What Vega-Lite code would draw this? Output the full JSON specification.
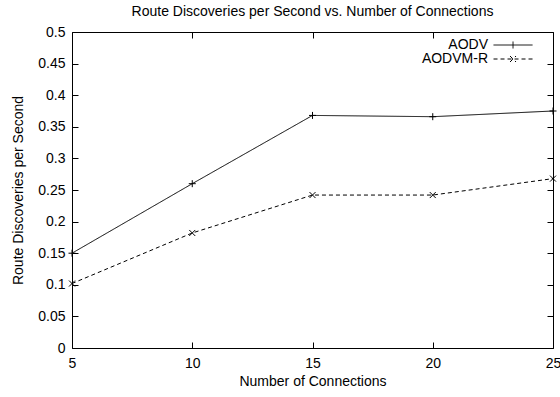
{
  "$schema": "https://vega.github.io/schema/vega-lite/v6.json",
  "width": 481,
  "height": 316,
  "autosize": "none",
  "padding": {"left": 72, "top": 32, "right": 7, "bottom": 49},
  "background": "white",
  "config": {
    "font": "Liberation Sans",
    "view": {"stroke": "black", "strokeWidth": 1},
    "axis": {"labelFont": "Liberation Sans", "titleFont": "Liberation Sans", "labelFontSize": 14, "titleFontSize": 14, "labelColor": "black", "titleColor": "black", "titleFontWeight": "normal", "grid": false, "domain": false, "tickColor": "black", "tickSize": -6, "tickWidth": 1},
    "legend": {"labelFont": "Liberation Sans", "labelFontSize": 14, "labelColor": "black", "padding": 0}
  },
  "title": {"text": "Route Discoveries per Second vs. Number of Connections", "font": "Liberation Sans", "fontSize": 14, "fontWeight": "normal", "color": "black", "anchor": "middle", "offset": 6},
  "data": {"values": [
    {"connections": 5, "rate": 0.150, "series": "AODV"},
    {"connections": 10, "rate": 0.260, "series": "AODV"},
    {"connections": 15, "rate": 0.368, "series": "AODV"},
    {"connections": 20, "rate": 0.366, "series": "AODV"},
    {"connections": 25, "rate": 0.375, "series": "AODV"},
    {"connections": 5, "rate": 0.102, "series": "AODVM-R"},
    {"connections": 10, "rate": 0.182, "series": "AODVM-R"},
    {"connections": 15, "rate": 0.242, "series": "AODVM-R"},
    {"connections": 20, "rate": 0.242, "series": "AODVM-R"},
    {"connections": 25, "rate": 0.268, "series": "AODVM-R"}
  ]},
  "resolve": {"axis": {"x": "independent", "y": "independent"}},
  "layer": [
    {
      "mark": {"type": "line", "color": "black", "strokeWidth": 1},
      "encoding": {
        "x": {"field": "connections", "type": "quantitative", "scale": {"domain": [5, 25], "nice": false, "zero": false}, "axis": {"title": "Number of Connections", "values": [5, 10, 15, 20, 25], "labelPadding": 14, "titlePadding": 4, "labelFlush": false}},
        "y": {"field": "rate", "type": "quantitative", "scale": {"domain": [0, 0.5], "nice": false}, "axis": {"title": "Route Discoveries per Second", "values": [0, 0.05, 0.1, 0.15, 0.2, 0.25, 0.3, 0.35, 0.4, 0.45, 0.5], "format": "~g", "labelPadding": 13, "titlePadding": 12, "labelFlush": false}},
        "strokeDash": {"field": "series", "type": "nominal", "scale": {"domain": ["AODV", "AODVM-R"], "range": [[1, 0], [4, 3]]},
          "legend": {"title": null, "orient": "top-right", "offset": 6, "symbolSize": 144, "symbolStrokeColor": "black", "symbolStrokeWidth": 1, "labelAlign": "right", "labelOffset": -43, "rowPadding": -3,
            "encode": {"symbols": {"update": {"shape": {"signal": "datum.value === 'AODV' ? 'M-5.08,0H1.42M-1.83,-0.58V0.58M3.42,0' : 'M-5.08,0H1.42M-2.33,-0.5L-1.33,0.5M-2.33,0.5L-1.33,-0.5M3.42,0'"}}}}}}
      }
    },
    {
      "transform": [{"filter": "datum.series === 'AODV'"}],
      "mark": {"type": "point", "filled": false, "stroke": "black", "strokeWidth": 1, "size": 49, "opacity": 1, "shape": "M-1,0H1M0,-1V1"},
      "encoding": {
        "x": {"field": "connections", "type": "quantitative", "axis": {"orient": "top", "title": null, "labels": false, "values": [5, 10, 15, 20, 25]}},
        "y": {"field": "rate", "type": "quantitative", "axis": {"orient": "right", "title": null, "labels": false, "values": [0, 0.05, 0.1, 0.15, 0.2, 0.25, 0.3, 0.35, 0.4, 0.45, 0.5]}}
      }
    },
    {
      "transform": [{"filter": "datum.series === 'AODVM-R'"}],
      "mark": {"type": "point", "filled": false, "stroke": "black", "strokeWidth": 1, "size": 36, "opacity": 1, "shape": "M-1,-1L1,1M-1,1L1,-1"},
      "encoding": {
        "x": {"field": "connections", "type": "quantitative", "axis": null},
        "y": {"field": "rate", "type": "quantitative", "axis": null}
      }
    }
  ]
}
